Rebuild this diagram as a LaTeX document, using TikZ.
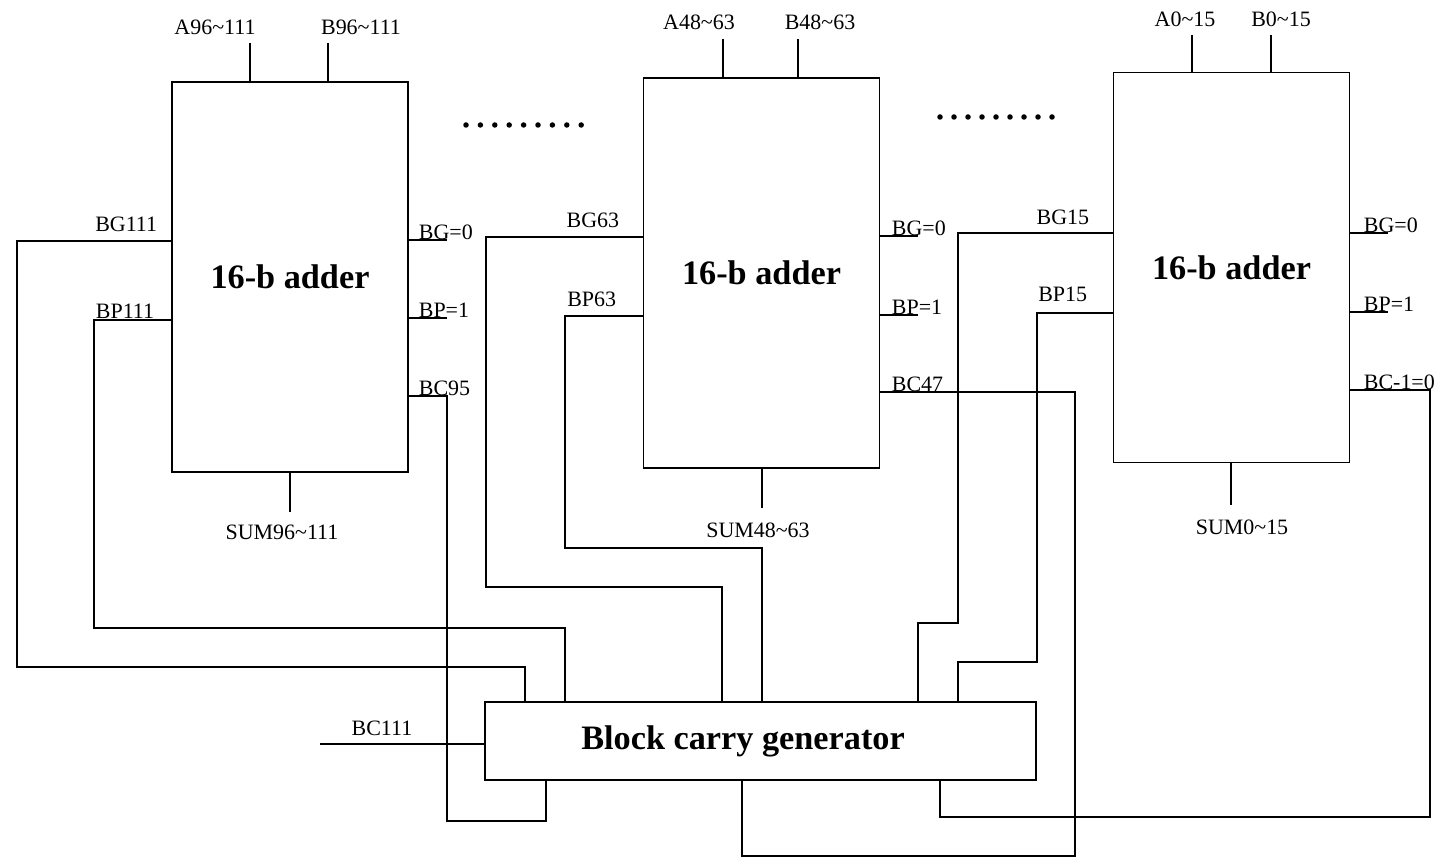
\documentclass[tikz,border=0pt]{standalone}
\usepackage{fontspec}
\setmainfont{Liberation Serif}
\usetikzlibrary{positioning}

\begin{document}
\begin{tikzpicture}[x=0.02cm,y=-0.02cm,line width=1pt,
 add/.style={draw,minimum width=4.72cm,minimum height=7.8cm,inner sep=0pt,font=\fontsize{19.5}{23}\selectfont\bfseries},
 gen/.style={draw,minimum width=11.02cm,minimum height=1.56cm,inner sep=0pt,font=\fontsize{19.5}{23}\selectfont\bfseries},
 lab/.style={inner sep=0pt,font=\fontsize{12.5}{15}\selectfont}]
\useasboundingbox (0,0) rectangle (1443,857);
% adders and block carry generator
\node[add] (a1) at (290,277) {16-b adder};
\node[add] (a2) at (761.5,273) {16-b adder};
\node[add] (a3) at (1231.5,267.5) {16-b adder};
\node[gen] (bcg) at (760.5,741) {Block carry generator\kern0.7cm};
% operand inputs
\coordinate (ia1) at (250,43);
\coordinate (ib1) at (328,43);
\coordinate (ia2) at (723,39);
\coordinate (ib2) at (798,39);
\coordinate (ia3) at (1192,35);
\coordinate (ib3) at (1271,35);
\draw (ia1) -- (ia1 |- a1.north);
\draw (ib1) -- (ib1 |- a1.north);
\draw (ia2) -- (ia2 |- a2.north);
\draw (ib2) -- (ib2 |- a2.north);
\draw (ia3) -- (ia3 |- a3.north);
\draw (ib3) -- (ib3 |- a3.north);
\node[lab,anchor=base] (la1) at (215,35) {A96\textasciitilde111};
\node[lab,anchor=base] (lb1) at (361,35) {B96\textasciitilde111};
\node[lab,anchor=base] (la2) at (699,30) {A48\textasciitilde63};
\node[lab,anchor=base] (lb2) at (820,30) {B48\textasciitilde63};
\node[lab,anchor=base] (la3) at (1185,27) {A0\textasciitilde15};
\node[lab,anchor=base] (lb3) at (1281,27) {B0\textasciitilde15};
% sum outputs
\coordinate (s1) at (290,512);
\coordinate (s2) at (762,508);
\coordinate (s3) at (1231,505);
\draw (s1 |- a1.south) -- (s1);
\draw (s2 |- a2.south) -- (s2);
\draw (s3 |- a3.south) -- (s3);
\node[lab,anchor=base] (ls1) at (282,540) {SUM96\textasciitilde111};
\node[lab,anchor=base] (ls2) at (758,538) {SUM48\textasciitilde63};
\node[lab,anchor=base] (ls3) at (1242,535) {SUM0\textasciitilde15};
% constant outputs on the right
\coordinate (g0a) at (447,240);
\coordinate (p1a) at (447,318);
\coordinate (g0b) at (918,236);
\coordinate (p1b) at (918,315);
\coordinate (g0c) at (1388,233);
\coordinate (p1c) at (1388,312);
\draw (a1.east |- g0a) -- (g0a);
\draw (a1.east |- p1a) -- (p1a);
\draw (a2.east |- g0b) -- (g0b);
\draw (a2.east |- p1b) -- (p1b);
\draw (a3.east |- g0c) -- (g0c);
\draw (a3.east |- p1c) -- (p1c);
\node[lab,anchor=base west] (lg0a) at (418,240) {BG=0};
\node[lab,anchor=base west] (lp1a) at (418,318) {BP=1};
\node[lab,anchor=base west] (lc95) at (418,396) {BC95};
\node[lab,anchor=base west] (lg0b) at (891,236) {BG=0};
\node[lab,anchor=base west] (lp1b) at (891,315) {BP=1};
\node[lab,anchor=base west] (lc47) at (891,392) {BC47};
\node[lab,anchor=base west] (lg0c) at (1363,233) {BG=0};
\node[lab,anchor=base west] (lp1c) at (1363,312) {BP=1};
\node[lab,anchor=base west] (lcm1) at (1363,390) {BC-1=0};
% block generate / propagate outputs on the left
\node[lab,anchor=base east] (lg111) at (158,232) {BG111};
\node[lab,anchor=base east] (lp111) at (155,319) {BP111};
\node[lab,anchor=base east] (lg63) at (620,228) {BG63};
\node[lab,anchor=base east] (lp63) at (617,307) {BP63};
\node[lab,anchor=base east] (lg15) at (1090,225) {BG15};
\node[lab,anchor=base east] (lp15) at (1088,302) {BP15};
\node[lab,anchor=base] (lc111) at (382,735) {BC111};
% ports
\coordinate (bg111) at (a1.west |- 0,241);
\coordinate (bp111) at (a1.west |- 0,320);
\coordinate (bc95) at (a1.east |- 0,396);
\coordinate (bg63) at (a2.west |- 0,237);
\coordinate (bp63) at (a2.west |- 0,316);
\coordinate (bc47) at (a2.east |- 0,392);
\coordinate (bg15) at (a3.west |- 0,233);
\coordinate (bp15) at (a3.west |- 0,313);
\coordinate (bcm1) at (a3.east |- 0,390);
\coordinate (bc111) at (320,744);
% wiring to the block carry generator
\draw (bg111) -| (17,667) -| (bcg.north -| 525,0);
\draw (bp111) -| (94,628) -| (bcg.north -| 565,0);
\draw (bc95) -| (447,821) -| (bcg.south -| 546,0);
\draw (bg63) -| (486,587) -| (bcg.north -| 722,0);
\draw (bp63) -| (565,548) -| (bcg.north -| 762,0);
\draw (bc47) -| (1075,856) -| (bcg.south -| 742,0);
\draw (bg15) -| (958,623) -| (bcg.north -| 918,0);
\draw (bp15) -| (1037,662) -| (bcg.north -| 958,0);
\draw (bcm1) -| (1430,817) -| (bcg.south -| 940,0);
\draw (bc111) -- (bcg.west |- bc111);
% dots between the adders
\foreach \i in {0,...,8} \fill (466+14.4*\i,125) circle[radius=0.055cm];
\foreach \i in {0,...,8} \fill (940+14*\i,117) circle[radius=0.055cm];
\end{tikzpicture}
\end{document}
